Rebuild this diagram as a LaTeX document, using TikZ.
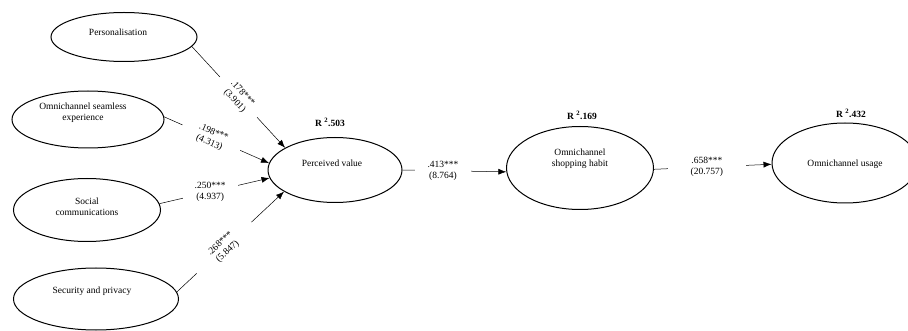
\documentclass[tikz,border=0pt]{standalone}
\usepackage{fontspec}
\setmainfont{Liberation Serif}
\usetikzlibrary{arrows.meta,shapes.geometric}
\begin{document}
\begin{tikzpicture}[x=1pt,y=-1pt,
  ell/.style={draw, ellipse, line width=1pt, inner sep=0pt},
  txt/.style={font=\fontsize{9.5}{11}\selectfont, align=center, inner sep=0pt},
  lbl/.style={fill=white, font=\fontsize{9.5}{11}\selectfont, align=center, inner ysep=1pt},
  rsq/.style={font=\fontsize{9.5}{11}\selectfont\bfseries, inner sep=0pt},
  conn/.style={line width=0.5pt, -{Latex[length=8pt,width=6pt]}}
]
\useasboundingbox (0,0) rectangle (908,331);

% ellipses
\node[ell, minimum width=146pt, minimum height=49pt] (pers) at (124,37) {};
\node[ell, minimum width=152pt, minimum height=57pt] (seam) at (88,119.5) {};
\node[ell, minimum width=147pt, minimum height=63pt] (soc) at (87,210) {};
\node[ell, minimum width=165pt, minimum height=62pt] (sec) at (96,299) {};
\node[ell, minimum width=134pt, minimum height=65pt] (pv) at (335,170) {};
\node[ell, minimum width=147pt, minimum height=83pt] (hab) at (580,168) {};
\node[ell, minimum width=146pt, minimum height=80pt] (use) at (845,163) {};

% texts
\node[txt] (perst) at (118,32) {Personalisation};
\node[txt] (seamt) at (83,113) {Omnichannel seamless\\experience};
\node[txt] (soct) at (87,207) {Social\\communications};
\node[txt] (sect) at (92,291) {Security and privacy};
\node[txt] (pvt) at (332,163) {Perceived value};
\node[txt] (habt) at (580,159) {Omnichannel\\shopping habit};
\node[txt] (uset) at (845,164) {Omnichannel usage};

% R squared
\node[rsq] (r1) at (330,122) {R \textsuperscript{2}.503};
\node[rsq] (r2) at (582,115) {R \textsuperscript{2}.169};
\node[rsq] (r3) at (851,113) {R \textsuperscript{2}.432};

% connectors
\draw[conn] (pers.-8) -- node[lbl, sloped, pos=0.5, inner xsep=12pt] (l1) {.178***\\(3.901)} (pv.156);
\draw[conn] (seam.2) -- node[lbl, sloped, pos=0.45, inner xsep=16pt] (l2) {.198***\\(4.313)} (pv.174);
\draw[conn] (soc.5) -- node[lbl, pos=0.46, inner xsep=12pt] (l3) {.250***\\(4.937)} (pv.-173);
\draw[conn] (sec.5) -- node[lbl, sloped, pos=0.44, inner xsep=22pt] (l4) {.268***\\(5.847)} (pv.-157);
\draw[conn] (pv.0) -- node[lbl, pos=0.39, inner xsep=13pt] (l5) {.413***\\(8.764)} (hab.183);
\draw[conn] (hab.-1) -- node[lbl, pos=0.45, inner xsep=23pt] (l6) {.658***\\(20.757)} (use.181);
\end{tikzpicture}
\end{document}
